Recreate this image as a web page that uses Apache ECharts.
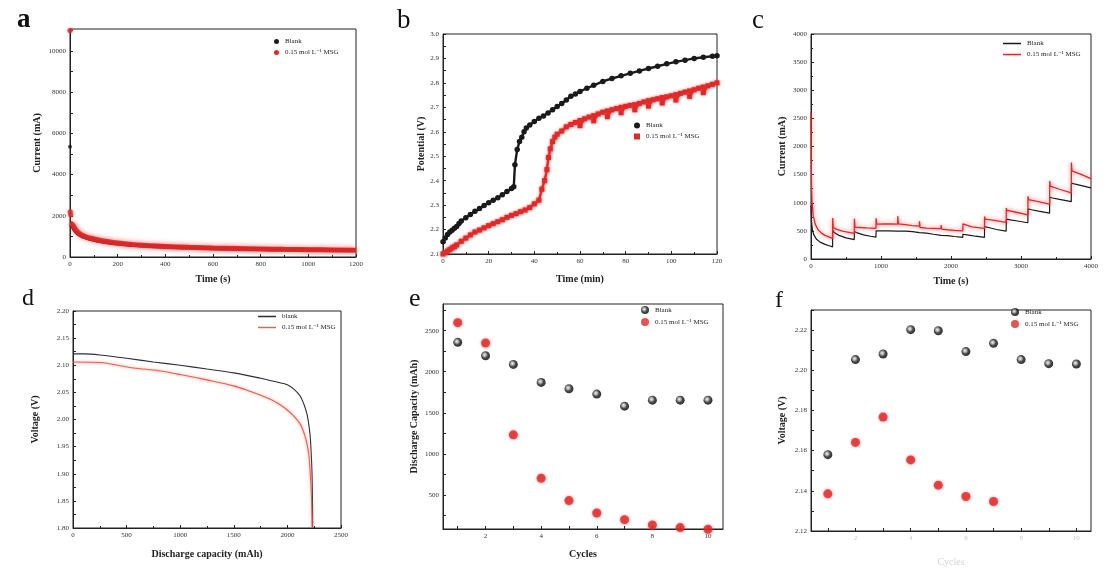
<!DOCTYPE html>
<html><head><meta charset="utf-8">
<script src="https://cdn.jsdelivr.net/npm/echarts@6/dist/echarts.min.js"></script>
<style>html,body{margin:0;padding:0;background:#fff}#c{width:1108px;height:576px}</style>
</head><body><div id="c"></div>
<script>
// ---------- DATA ----------
// Panel a: current vs time (s)
const aBlack = [[2,1600],[6,1550],[12,1450],[20,1300],[30,1170],[45,1050],[70,930],[100,830],[130,760],[170,690],[200,650],[250,600],[300,555],[400,500],[500,460],[600,430],[700,405],[800,385],[900,370],[1000,355],[1100,345],[1200,335]];
const aRed = [[2,1650],[6,1620],[12,1550],[20,1400],[30,1240],[45,1100],[70,970],[100,880],[130,800],[170,730],[200,680],[250,620],[300,570],[400,515],[500,470],[600,435],[700,410],[800,390],[900,372],[1000,358],[1100,345],[1200,330]];
const aBlackSpike = [[0,5350]];
const aRedSpike = [[0,11000],[1,2200],[3,2050]];
// Panel b: potential vs time (min)
const bBlack = [[0,2.150],[1,2.165],[2,2.180],[3,2.190],[4,2.197],[5,2.205],[6,2.212],[7,2.225],[8,2.235],[10,2.248],[12,2.262],[14,2.275],[16,2.286],[18,2.298],[20,2.310],[22,2.320],[24,2.330],[26,2.342],[28,2.356],[30,2.368],[31,2.375],[31.5,2.465],[32.5,2.528],[33.5,2.560],[34.5,2.578],[35.5,2.600],[36.5,2.615],[38,2.628],[40,2.642],[42,2.655],[44,2.665],[46,2.677],[48,2.690],[50,2.703],[52,2.716],[54,2.730],[56,2.745],[58,2.755],[60,2.765],[63,2.778],[66,2.790],[70,2.806],[74,2.818],[78,2.829],[82,2.839],[86,2.849],[90,2.859],[94,2.868],[98,2.878],[102,2.886],[106,2.893],[110,2.900],[114,2.905],[118,2.909],[120,2.911]];
const bRed = [[0,2.100],[1,2.105],[2,2.112],[3,2.118],[4,2.125],[5,2.130],[6,2.137],[8,2.152],[10,2.165],[12,2.178],[14,2.190],[16,2.198],[18,2.207],[20,2.216],[22,2.224],[24,2.232],[26,2.240],[28,2.250],[30,2.258],[32,2.265],[34,2.273],[36,2.280],[38,2.290],[40,2.305],[42,2.320],[43.3,2.365],[44.5,2.400],[45.5,2.445],[46.2,2.495],[47,2.530],[48,2.560],[49,2.578],[50,2.590],[52,2.603],[54,2.620],[56,2.630],[58,2.638],[60,2.646],[60,2.625],[62,2.653],[64,2.660],[66,2.666],[66,2.645],[68,2.673],[70,2.680],[72,2.685],[72,2.662],[74,2.690],[76,2.695],[78,2.700],[78,2.678],[80,2.704],[82,2.708],[84,2.711],[84,2.690],[86,2.716],[88,2.722],[90,2.727],[90,2.705],[92,2.731],[94,2.735],[96,2.740],[96,2.718],[98,2.743],[100,2.747],[102,2.752],[102,2.730],[104,2.757],[106,2.762],[108,2.767],[108,2.745],[110,2.772],[112,2.778],[114,2.783],[114,2.760],[116,2.788],[118,2.794],[120,2.800]];
// Panel c: current vs time (s), pulsed
const cBlack = [[0,950],[8,650],[20,520],[40,430],[80,350],[130,300],[200,260],[260,235],[308,215],[310,520],[330,470],[400,420],[500,375],[618,345],[620,490],[650,470],[750,430],[850,405],[928,390],[930,500],[1000,500],[1100,500],[1238,495],[1240,505],[1350,495],[1450,485],[1548,470],[1550,480],[1650,460],[1750,440],[1858,420],[1860,430],[1950,415],[2050,400],[2168,385],[2170,440],[2250,425],[2350,405],[2478,385],[2480,575],[2550,555],[2650,525],[2788,495],[2790,710],[2850,695],[2950,675],[3098,645],[3100,890],[3150,875],[3250,850],[3408,815],[3410,1100],[3450,1085],[3550,1060],[3718,1020],[3720,1350],[3760,1335],[3850,1310],[4000,1265]];
const cRed = [[0,2600],[3,1800],[8,1300],[15,1000],[30,780],[60,620],[100,520],[150,460],[200,420],[260,390],[308,365],[310,730],[318,560],[360,530],[450,495],[618,455],[620,715],[628,565],[700,560],[800,552],[928,545],[930,725],[938,620],[1050,622],[1150,622],[1238,620],[1240,760],[1248,625],[1350,610],[1450,595],[1548,585],[1550,670],[1558,560],[1650,550],[1750,545],[1858,540],[1860,605],[1868,530],[1950,520],[2050,510],[2168,500],[2170,625],[2178,590],[2300,570],[2478,545],[2480,755],[2488,710],[2600,690],[2788,650],[2790,905],[2798,865],[2900,840],[3098,785],[3100,1115],[3108,1055],[3250,1020],[3408,975],[3410,1385],[3418,1295],[3550,1240],[3718,1175],[3720,1715],[3728,1565],[3850,1510],[4000,1430]];
// Panel d: voltage vs discharge capacity (mAh)
const dBlack = [[0,2.121],[100,2.121],[250,2.119],[500,2.113],[750,2.106],[1000,2.100],[1250,2.093],[1500,2.086],[1750,2.076],[1900,2.069],[2000,2.064],[2060,2.056],[2120,2.043],[2160,2.025],[2185,2.008],[2200,1.990],[2214,1.966],[2224,1.930],[2230,1.898],[2234,1.850],[2236,1.800]];
const dRed = [[0,2.106],[250,2.105],[566,2.095],[800,2.090],[1001,2.083],[1250,2.073],[1499,2.062],[1650,2.052],[1810,2.040],[1910,2.030],[1996,2.018],[2060,2.006],[2121,1.991],[2160,1.972],[2183,1.954],[2200,1.935],[2214,1.898],[2224,1.860],[2230,1.800]];
// Panel e: discharge capacity vs cycles
const cycles = [1,2,3,4,5,6,7,8,9,10];
const eBlack = [2358,2195,2089,1870,1793,1728,1581,1654,1654,1654];
const eRed = [2598,2350,1232,703,431,280,199,134,102,81];
// Panel f: voltage vs cycles
const fBlack = [2.158,2.2053,2.2081,2.2202,2.2197,2.2093,2.2134,2.2053,2.2033,2.2031];
const fRed = [2.1385,2.1641,2.1767,2.1554,2.1428,2.1372,2.1347];
// tick labels
const aYTicks = [0,2000,4000,6000,8000,10000];
const bYTicks = [2.1,2.2,2.3,2.4,2.5,2.6,2.7,2.8,2.9,3.0];
const dYTicks = [1.80,1.85,1.90,1.95,2.00,2.05,2.10,2.15,2.20];
const eYTicks = [500,1000,1500,2000,2500];
const fYTicks = [2.12,2.14,2.16,2.18,2.20,2.22];
const eXTicks = [2,4,6,8,10];
const LEG_BLANK = 'Blank';
const LEG_MSG = '0.15 mol L\u207B\u00B9 MSG';

// ---------- CHART ----------
const SERIF = "'Liberation Serif','DejaVu Serif',serif";
const RED = '#e02828';
const BLK = '#1a1a1a';
const chart = echarts.init(document.getElementById('c'), null, {renderer:'canvas'});

function axis(gridIndex, extra) {
  const base = {
    type:'value', gridIndex, nameLocation:'middle',
    axisLine:{show:true,onZero:false,lineStyle:{color:'#222',width:1}},
    axisTick:{show:true,inside:true,length:3,lineStyle:{color:'#222'}},
    minorTick:{show:false},
    axisLabel:{fontFamily:SERIF,fontSize:7,color:'#333',margin:4,formatter:v=>String(v)},
    splitLine:{show:false},
    nameTextStyle:{fontFamily:SERIF,fontSize:10,color:'#222',fontWeight:'bold'}
  };
  for (const k in extra) {
    if (base[k] && typeof base[k]==='object' && !Array.isArray(base[k]) && typeof extra[k]==='object') {
      base[k] = Object.assign({}, base[k], extra[k]);
    } else base[k] = extra[k];
  }
  return base;
}
const minor = {show:true,splitNumber:2,length:2,lineStyle:{color:'#222'}};
function range(a,b,s){const r=[];for(let v=a;v<=b+1e-9;v+=s)r.push(+v.toFixed(4));return r;}

const grids = [
  {left:70, top:29, width:286, height:228},
  {left:443, top:34, width:274, height:220},
  {left:811, top:34, width:280, height:225},
  {left:73, top:311, width:268, height:217},
  {left:443, top:304, width:280, height:225},
  {left:811, top:310, width:280, height:221}
].map(g=>Object.assign({show:true,borderColor:'#222',borderWidth:1,backgroundColor:'transparent'},g));

const xAxis = [
  axis(0,{min:0,max:1200,interval:200,minorTick:minor,name:'Time (s)',nameGap:17}),
  axis(1,{min:0,max:120,interval:20,minorTick:minor,name:'Time (min)',nameGap:20}),
  axis(2,{min:0,max:4000,interval:1000,minorTick:minor,name:'Time (s)',nameGap:17}),
  axis(3,{min:0,max:2500,interval:500,minorTick:minor,name:'Discharge capacity (mAh)',nameGap:21}),
  axis(4,{min:0.47,max:10.54,name:'Cycles',nameGap:20,
    axisLabel:{customValues:eXTicks},axisTick:{customValues:cycles}}),
  axis(5,{min:0.39,max:10.53,name:'Cycles',nameGap:26,
    nameTextStyle:{color:'#d4d4d4',fontWeight:'normal'},
    axisLabel:{customValues:eXTicks,color:'#c8c8c8'},axisTick:{customValues:cycles}})
];
const yAxis = [
  axis(0,{min:0,max:11070,name:'Current (mA)',nameGap:28,
    axisLabel:{customValues:aYTicks},axisTick:{customValues:range(0,11000,1000)}}),
  axis(1,{min:2.1,max:3.0,name:'Potential (V)',nameGap:17,
    axisLabel:{customValues:bYTicks,formatter:v=>(+v).toFixed(1)},axisTick:{customValues:range(2.1,3.0,0.05)}}),
  axis(2,{min:0,max:4000,interval:500,minorTick:minor,name:'Current (mA)',nameGap:24}),
  axis(3,{min:1.8,max:2.2,name:'Voltage (V)',nameGap:33,
    axisLabel:{customValues:dYTicks,formatter:v=>(+v).toFixed(2)},axisTick:{customValues:range(1.8,2.2,0.025)}}),
  axis(4,{min:85,max:2825,name:'Discharge Capacity (mAh)',nameGap:24,
    axisLabel:{customValues:eYTicks},axisTick:{customValues:range(250,2750,250)}}),
  axis(5,{min:2.12,max:2.23,name:'Voltage (V)',nameGap:24,
    axisLabel:{customValues:fYTicks,formatter:v=>(+v).toFixed(2)},axisTick:{customValues:range(2.12,2.23,0.01)}})
];

const sphere = {type:'radial',x:0.4,y:0.4,r:0.6,colorStops:[
  {offset:0,color:'#f2f2f2'},{offset:0.3,color:'#9a9a9a'},{offset:0.6,color:'#1c1c1c'},{offset:1,color:'#000'}]};
const redGlow = {color:RED,shadowBlur:3,shadowColor:'rgba(235,50,50,0.7)'};
const pair = (xs,ys)=>ys.map((v,i)=>[xs[i],v]);

const series = [
  // a
  {name:'a-'+LEG_BLANK,type:'line',xAxisIndex:0,yAxisIndex:0,data:aBlack,symbol:'none',smooth:true,
    lineStyle:{color:BLK,width:4},itemStyle:{color:BLK}},
  {name:'a-'+LEG_MSG,type:'line',xAxisIndex:0,yAxisIndex:0,data:aRed,symbol:'none',smooth:true,
    lineStyle:{color:'rgba(222,40,40,0.92)',width:5,shadowBlur:5,shadowColor:'rgba(235,60,60,0.8)'},itemStyle:{color:RED}},
  {name:'a-'+LEG_BLANK,type:'scatter',xAxisIndex:0,yAxisIndex:0,data:aBlackSpike,symbolSize:4,itemStyle:{color:BLK}},
  {name:'a-'+LEG_MSG,type:'scatter',xAxisIndex:0,yAxisIndex:0,data:aRedSpike,symbolSize:5,itemStyle:redGlow},
  // b
  {name:'b-'+LEG_BLANK,type:'line',xAxisIndex:1,yAxisIndex:1,data:bBlack,symbol:'circle',symbolSize:5.5,
    lineStyle:{color:BLK,width:2.4},itemStyle:{color:BLK}},
  {name:'b-'+LEG_MSG,type:'line',xAxisIndex:1,yAxisIndex:1,data:bRed,symbol:'rect',symbolSize:5,
    lineStyle:{color:RED,width:2.4,shadowBlur:3,shadowColor:'rgba(235,50,50,0.7)'},itemStyle:redGlow},
  // c
  {name:'c-'+LEG_BLANK,type:'line',xAxisIndex:2,yAxisIndex:2,data:cBlack,symbol:'none',
    lineStyle:{color:BLK,width:1.2},itemStyle:{color:BLK}},
  {name:'c-'+LEG_MSG,type:'line',xAxisIndex:2,yAxisIndex:2,data:cRed,symbol:'none',
    lineStyle:{color:RED,width:1.3,shadowBlur:4,shadowColor:'rgba(240,70,70,0.85)'},itemStyle:{color:RED}},
  // d
  {name:'d-'+LEG_BLANK.toLowerCase(),type:'line',xAxisIndex:3,yAxisIndex:3,data:dBlack,symbol:'none',smooth:0.3,
    lineStyle:{color:'#2b2d3c',width:1.1},itemStyle:{color:'#2b2d3c'}},
  {name:'d-'+LEG_MSG,type:'line',xAxisIndex:3,yAxisIndex:3,data:dRed,symbol:'none',smooth:0.3,
    lineStyle:{color:'#e8604f',width:1.1,shadowBlur:3,shadowColor:'rgba(240,110,100,0.8)'},itemStyle:{color:'#e8604f'}},
  // e
  {name:'e-'+LEG_BLANK,type:'scatter',xAxisIndex:4,yAxisIndex:4,data:pair(cycles,eBlack),symbolSize:9,itemStyle:{color:sphere}},
  {name:'e-'+LEG_MSG,type:'scatter',xAxisIndex:4,yAxisIndex:4,data:pair(cycles,eRed),symbolSize:9,itemStyle:redGlow,clip:false},
  // f
  {name:'f-'+LEG_BLANK,type:'scatter',xAxisIndex:5,yAxisIndex:5,data:pair(cycles,fBlack),symbolSize:9,itemStyle:{color:sphere}},
  {name:'f-'+LEG_MSG,type:'scatter',xAxisIndex:5,yAxisIndex:5,data:pair(cycles,fRed),symbolSize:9,itemStyle:redGlow}
];

function legend(p, left, top, icon, w, h, blankName) {
  return {
    orient:'vertical', left, top, itemGap:4, itemWidth:w, itemHeight:h,
    selectedMode:false, padding:0,
    textStyle:{fontFamily:SERIF,fontSize:7,color:'#222',padding:[0,0,0,1]},
    formatter:n=>n.slice(2),
    data:[{name:p+'-'+(blankName||LEG_BLANK),icon},{name:p+'-'+LEG_MSG,icon}]
  };
}
const legends = [
  legend('a',274,38,'circle',5,5),
  legend('b',634,122,'circle',6,6),
  legend('c',1003,40,'rect',18,1.5),
  legend('d',258,313,'rect',18,1.5,'blank'),
  legend('e',641,306,'circle',8,8),
  legend('f',1011,308,'circle',8,8)
];
// rect icon for red square in b
legends[1].data[1].icon = 'rect';

const letters = [['a',17,34,'bold',27],['b',397,34,'normal',27],['c',752,34,'normal',27],
                 ['d',22,311,'normal',24],['e',409,312,'normal',26],['f',775,313,'normal',24]];
const graphic = letters.map(([t,x,y,fw,fs])=>({type:'text',x,y,
  style:{text:t,font:fw+' '+fs+'px '+SERIF,fill:'#111',verticalAlign:'bottom'}}));

chart.setOption({
  backgroundColor:'#ffffff', animation:false,
  grid:grids, xAxis, yAxis, series, legend:legends, graphic
});
</script></body></html>
